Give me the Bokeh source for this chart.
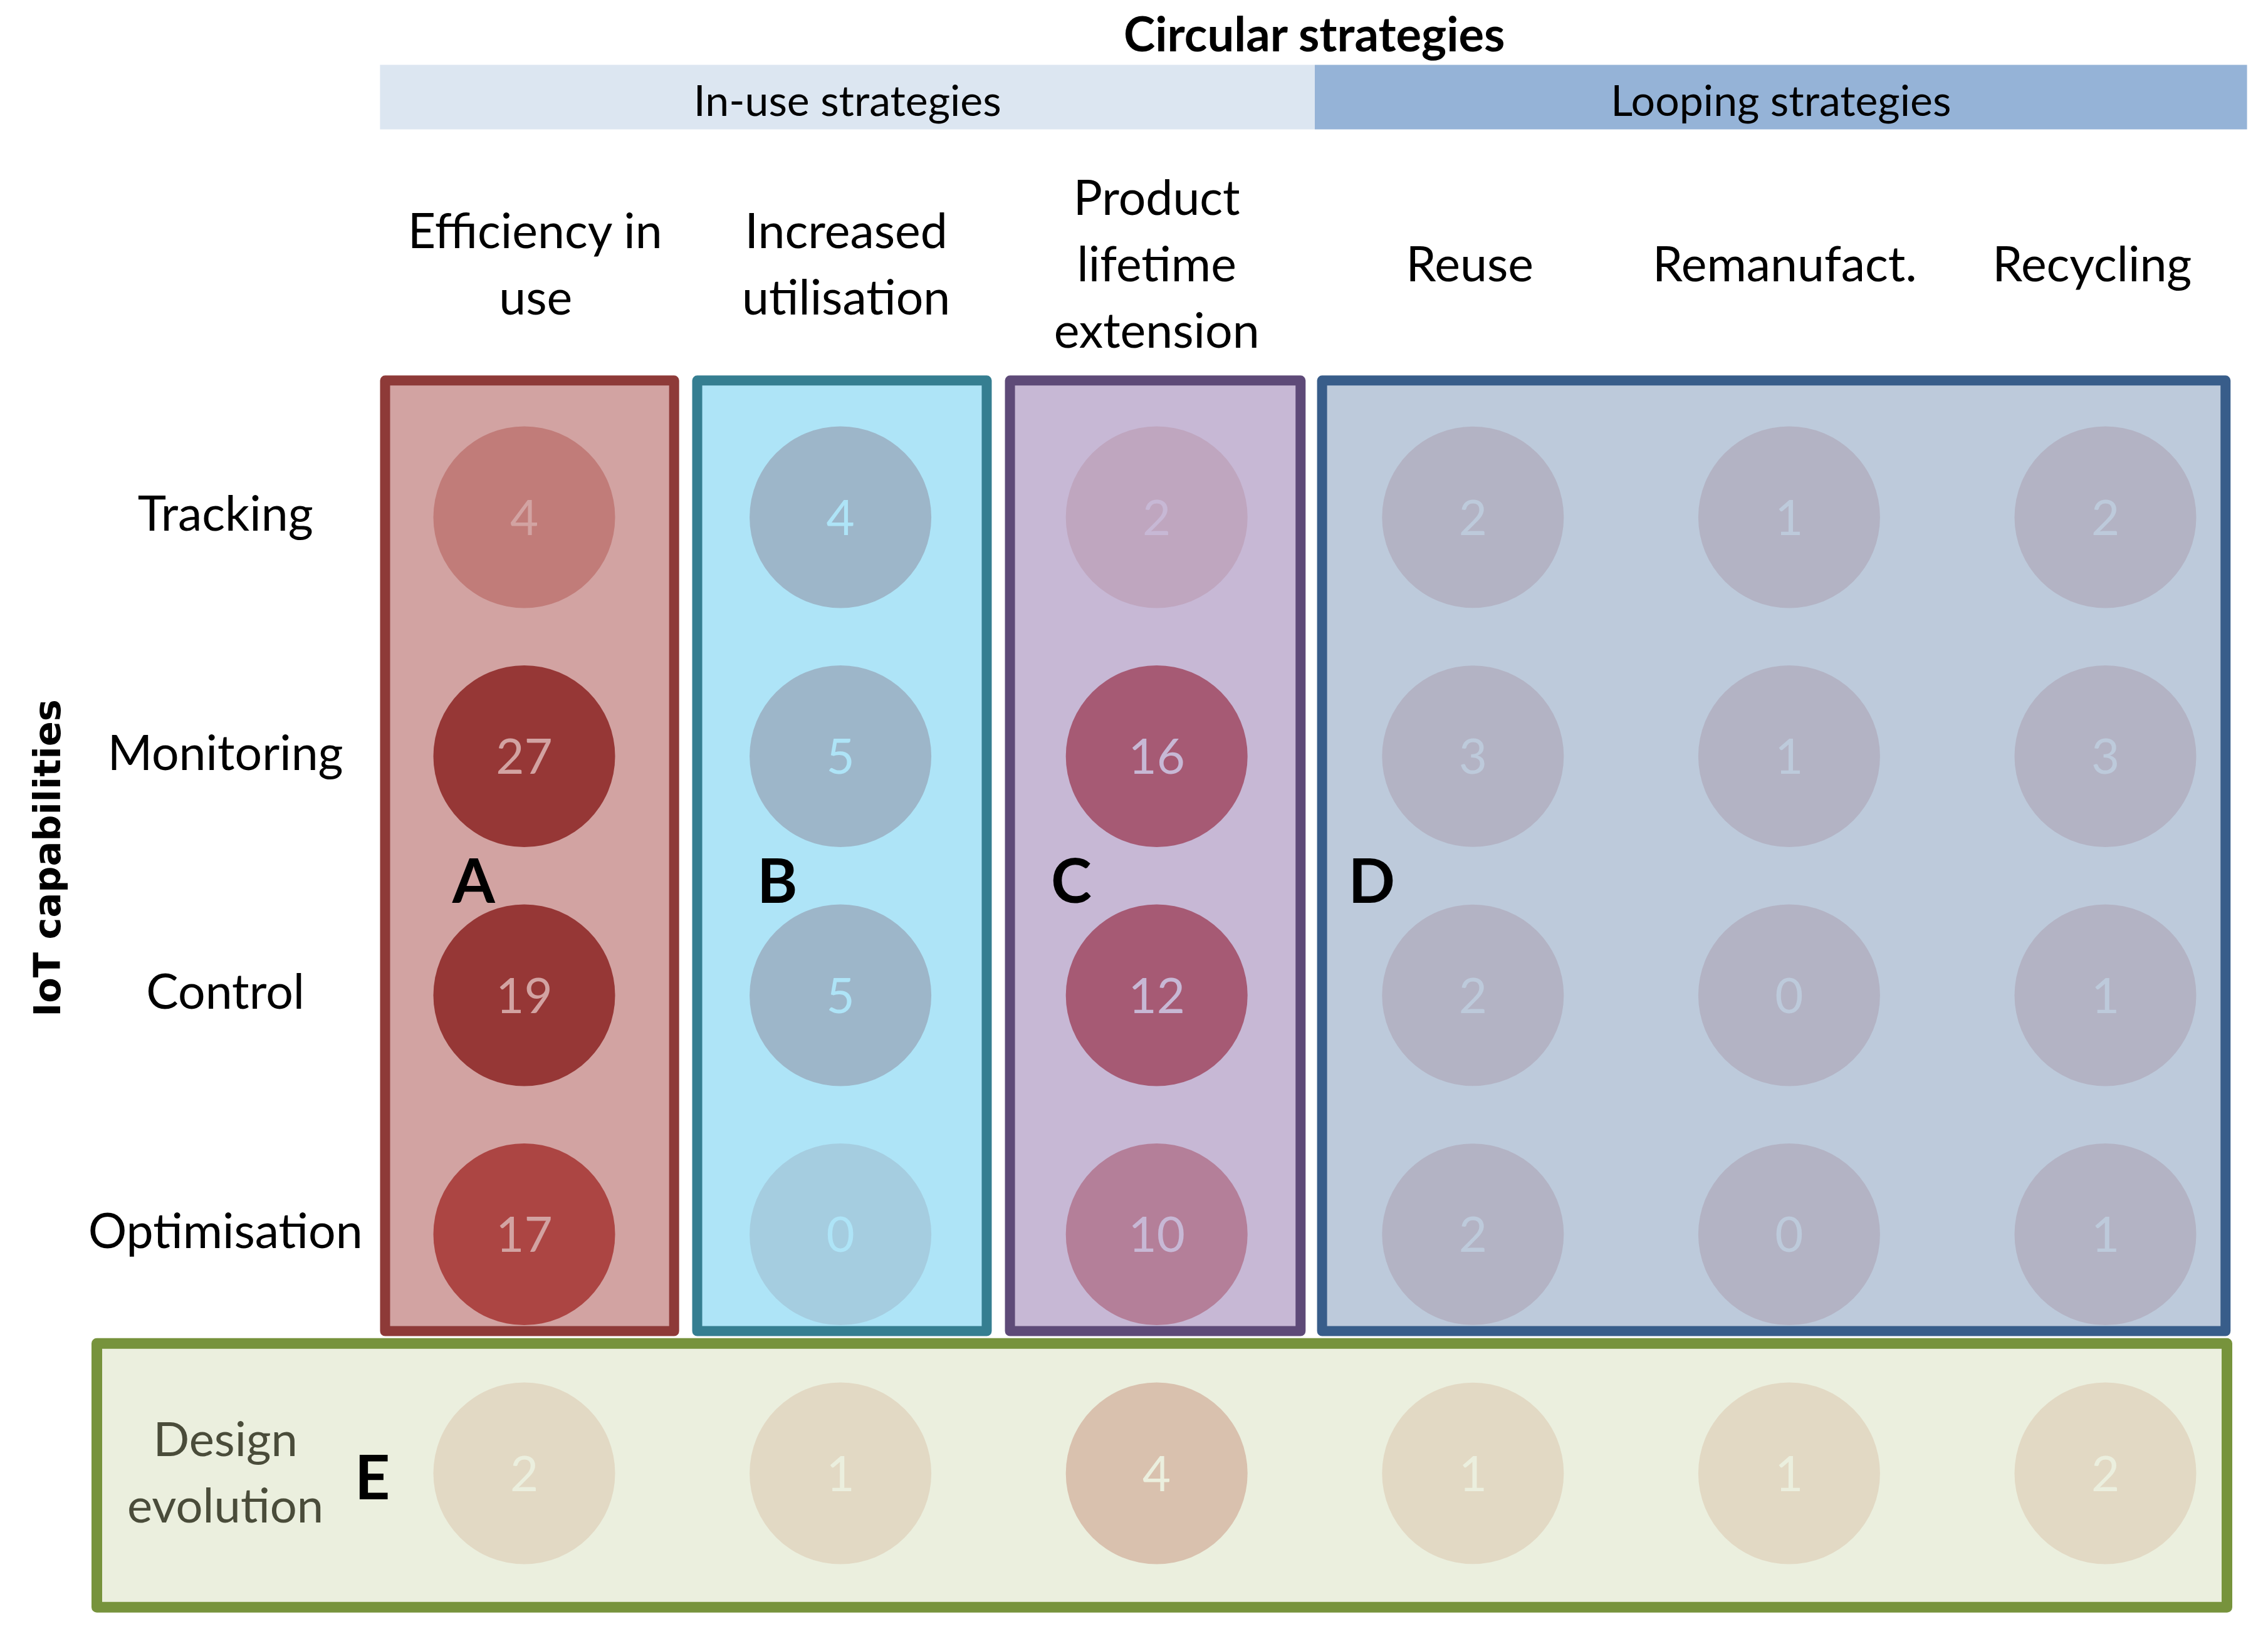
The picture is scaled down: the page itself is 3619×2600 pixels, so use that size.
import math
from bokeh.plotting import figure
from bokeh.models import Range1d, ColumnDataSource
from bokeh.embed import file_html
from bokeh.resources import INLINE
from bokeh.core.properties import value

# ---------------- data ----------------
title = "Circular strategies"
strategy_families = ["In-use strategies", "Looping strategies"]
family_first_col = [0, 3]
family_last_col = [2, 5]

strategies = ["Efficiency in\nuse", "Increased\nutilisation", "Product\nlifetime\nextension",
              "Reuse", "Remanufact.", "Recycling"]
capabilities = ["Tracking", "Monitoring", "Control", "Optimisation"]
design_row_label = "Design\nevolution"
y_title = "IoT capabilities"

tracking = [4, 4, 2, 2, 1, 2]
monitoring = [27, 5, 16, 3, 1, 3]
control = [19, 5, 12, 2, 0, 1]
optimisation = [17, 0, 10, 2, 0, 1]
design_evolution = [2, 1, 4, 1, 1, 2]

cluster_letters = ["A", "B", "C", "D"]
cluster_first_col = [0, 1, 2, 3]
cluster_last_col = [0, 1, 2, 5]

# ---------------- styles ----------------
FONT = "Lato"
cluster_fill = ["#D2A3A2", "#AEE4F7", "#C7B8D5", "#BDCADB"]
cluster_line = ["#8E3A38", "#357E91", "#5E4A78", "#385D8A"]
e_fill, e_line = "#EBEFDE", "#77933C"
family_fill = ["#DCE6F1", "#95B3D7"]
circle_colors = [  # per column, rows top->bottom
    ["#C17C79", "#963736", "#963736", "#AC4543"],
    ["#9DB6C9", "#9DB6C9", "#9DB6C9", "#A5CDE0"],
    ["#BFA6BF", "#A65A74", "#A65A74", "#B47F99"],
    ["#B3B3C4", "#B3B3C4", "#B3B3C4", "#B3B3C4"],
    ["#B3B3C4", "#B3B3C4", "#B3B3C4", "#B3B3C4"],
    ["#B3B3C4", "#B3B3C4", "#B3B3C4", "#B3B3C4"],
]
design_colors = ["#E2D9C4", "#E2D9C4", "#D9C1AE", "#E2D9C4", "#E2D9C4", "#E2D9C4"]
cluster_num_color = cluster_fill
letter_offsets = [-0.16, -0.20, -0.27, -0.32]
header_dx = [0.036, 0.018, 0.0, -0.01, -0.014, -0.042]

# ---------------- geometry (screen mapping) ----------------
W, H = 3600, 2584
X0, DX = 835.0, 504.6     # px of column 0 centre, px per column
Y0, DY = 824.0, 381.5     # px of row 0 centre, px per row
SHIFT = -1                # page offset of canvas origin
LINE_STEP = 106.0 / DY    # multi-line spacing in row units
def ux(px): return (px - X0) / DX
def vy(py): return (py - Y0) / DY

p = figure(width=W, height=H, output_backend="svg", toolbar_location=None,
           x_range=Range1d(ux(SHIFT), ux(SHIFT + W)), y_range=Range1d(vy(SHIFT + H), vy(SHIFT)),
           min_border=0, background_fill_color="white", border_fill_color="white")
p.axis.visible = False
p.grid.visible = False
p.outline_line_color = None

def split_lines(labels, xs, yc):
    """explode multi-line labels into single-line entries centred on yc"""
    ox, oy, ot = [], [], []
    for lab, x, y in zip(labels, xs, yc):
        parts = lab.split("\n")
        n = len(parts)
        for i, part in enumerate(parts):
            ox.append(x); oy.append(y + (i - (n - 1) / 2) * LINE_STEP); ot.append(part)
    return ox, oy, ot

# y title
p.text(x=[ux(74)], y=[vy(1368)], text=[y_title], angle=math.pi / 2,
       text_font=value("DejaVu Sans"), text_font_size="59px", text_font_style="bold",
       text_align="center", text_baseline="middle", text_color="black")

# header bars
bar_left = [f - 0.5 for f in family_first_col]
bar_right = [l + 0.5 for l in family_last_col]
bar_left[0] += 0.044
bar_right[-1] -= 0.052
p.quad(left=bar_left, right=bar_right,
       top=[vy(102)] * 2, bottom=[vy(205)] * 2, fill_color=family_fill, line_color=None)
p.text(x=[(a + b) / 2 for a, b in zip(bar_left, bar_right)], y=[vy(157)] * 2,
       text=strategy_families, text_font=value(FONT), text_font_size="68px",
       text_align="center", text_baseline="middle", text_color="black")
p.text(x=[(family_first_col[0] + family_last_col[-1]) / 2], y=[vy(51)], text=[title],
       text_font=value(FONT), text_font_size="76px", text_font_style="bold",
       text_align="center", text_baseline="middle", text_color="black")

# column headers
hx, hy, ht = split_lines(strategies, [i + d for i, d in enumerate(header_dx)],
                         [vy(417)] * len(strategies))
p.text(x=hx, y=hy, text=ht, text_font=value(FONT), text_font_size="77px", text_align="center",
       text_baseline="middle", text_color="black")

# cluster boxes
pad_l = [0.44, 0.453, 0.464, 0.477]
pad_r = [0.474, 0.4625, 0.455, 0.38]
p.quad(left=[f - pl for f, pl in zip(cluster_first_col, pad_l)],
       right=[l + pr for l, pr in zip(cluster_last_col, pad_r)],
       top=[-0.572] * 4, bottom=[len(capabilities) - 1 + 0.405] * 4,
       fill_color=cluster_fill, line_color=cluster_line, line_width=16, line_join="round")
# design evolution box
p.quad(left=[ux(153)], right=[ux(3552)], top=[len(capabilities) - 0.543],
       bottom=[len(capabilities) + 0.56], fill_color=e_fill, line_color=e_line,
       line_width=17, line_join="round")

# circles for capability grid
rows_vals = [tracking, monitoring, control, optimisation]
xs, ys, vals, cols, tcols = [], [], [], [], []
def cluster_of(c):
    for k, (f, l) in enumerate(zip(cluster_first_col, cluster_last_col)):
        if f <= c <= l:
            return k
for r, rv in enumerate(rows_vals):
    for c, v in enumerate(rv):
        xs.append(c); ys.append(r); vals.append(str(v))
        cols.append(circle_colors[c][r]); tcols.append(cluster_num_color[cluster_of(c)])
er = len(capabilities)
for c, v in enumerate(design_evolution):
    xs.append(c); ys.append(er); vals.append(str(v))
    cols.append(design_colors[c]); tcols.append(e_fill)
src = ColumnDataSource(dict(x=xs, y=ys, v=vals, c=cols, t=tcols))
p.scatter(x="x", y="y", size=290, marker="circle", fill_color="c", line_color=None, source=src)
p.text(x="x", y="y", text="v", text_color="t", text_font=value(FONT), text_font_size="78px",
       text_align="center", text_baseline="middle", source=src)

# row labels
p.text(x=[-0.945] * len(capabilities), y=[r - 0.022 for r in range(len(capabilities))],
       text=capabilities, text_font=value(FONT), text_font_size="77px", text_align="center",
       text_baseline="middle", text_color="black")
dx_, dy_, dt_ = split_lines([design_row_label], [-0.945], [er - 0.01])
p.text(x=dx_, y=dy_, text=dt_, text_font=value(FONT), text_font_size="76px",
       text_align="center", text_baseline="middle", text_color="#4A4C3A")

# cluster letters
lx = [f + o for f, o in zip(cluster_first_col, letter_offsets)] + [-0.48]
ly = [1.5125] * len(cluster_letters) + [er + 0.01]
p.text(x=lx, y=ly, text=cluster_letters + ["E"], text_font=value(FONT),
       text_font_size="98px", text_font_style="bold", text_align="center",
       text_baseline="middle", text_color="black")

open("out.html", "w").write(file_html(p, INLINE))
